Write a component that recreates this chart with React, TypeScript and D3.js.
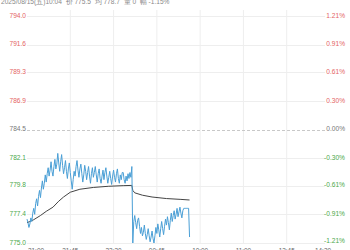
import React from "react";
import * as d3 from "d3";

const headerText = "2025/08/15(五)10:04  价 775.5  均 778.7  量 0  幅 -1.15%";

const priceTicks = [794.0, 791.6, 789.3, 786.9, 784.5, 782.1, 779.8, 777.4, 775.0];
const pctTicks = ["1.21%", "0.91%", "0.61%", "0.30%", "0.00%", "-0.30%", "-0.61%", "-0.91%", "-1.21%"];
const prevClose = 784.5;

const timeLabels = ["21:00", "21:45", "22:30", "00:45", "10:00", "11:00", "13:45", "14:30"];
const tickMinutes = [0, 45, 90, 135, 180, 225, 270, 315];

// one value per minute slot
const nightPrices = [
  777.0, 776.7, 776.3, 776.6, 777.1, 776.8, 777.5, 777.9, 777.4, 778.3, 778.7, 778.1, 778.9,
  779.4, 778.8, 779.6, 780.2, 779.5, 780.0, 780.7, 780.1, 780.8, 781.3, 780.6, 781.1,
  781.8, 781.0, 780.6, 781.4, 782.0, 781.2, 781.6, 782.5, 781.7, 781.0, 781.8, 782.4, 781.5, 780.8, 781.3,
  781.9, 781.0, 780.4, 781.2, 781.7, 780.9, 780.2, 779.5, 780.3, 781.0, 780.6, 781.4, 781.9, 781.1, 780.5,
  781.2, 781.6, 780.8, 780.1, 780.7, 781.5, 781.0, 780.3, 780.9, 781.4, 780.6, 780.0, 780.8, 781.3, 780.5,
  780.9, 781.4, 780.7, 780.1, 780.8, 781.2, 780.4, 780.0, 780.6, 781.1, 780.3, 780.9, 781.3, 780.6, 780.0,
  780.5, 781.0, 780.4, 779.9, 780.6, 781.1, 780.5, 780.1, 780.8, 781.2, 780.4, 780.0, 780.7, 780.3, 780.9,
  780.9, 780.3, 780.0, 780.6, 780.2, 780.8, 780.4, 780.9, 780.5, 781.4,
];
const dayPrices = [
  775.0, 776.8, 777.3, 776.7, 776.2, 776.9, 777.1, 776.4, 775.8, 776.3, 775.6, 775.9, 776.5, 775.8, 775.3,
  775.7, 776.2, 775.6, 775.1, 775.5, 776.0, 775.4, 775.0, 775.6, 776.3, 775.8, 776.6, 776.1, 775.5, 776.2,
  776.8, 776.2, 775.7, 776.4, 777.0, 776.5, 777.2, 776.7, 776.1, 776.9, 777.5, 776.8, 777.3, 777.7, 777.0,
  777.4, 777.9, 777.2, 777.6, 778.0, 777.5, 777.1, 777.7, 777.9, 777.9, 777.9, 777.9, 777.9, 777.9, 775.5,
];

const avgMinutes = [0, 3, 7, 14, 20, 27, 33, 38, 45, 55, 69, 85, 100, 109, 110, 112, 120, 130, 145, 160, 169];
const avgValues = [776.7, 776.8, 776.95, 777.3, 777.65, 778.0, 778.5, 778.85, 779.25, 779.5, 779.65, 779.75, 779.8, 779.82, 779.4, 779.2, 779.0, 778.85, 778.72, 778.65, 778.6];

const W = 350;
const H = 250;
const left = 27;
const right = 330;
const top = 16;
const bottom = 243;
const FONT = "'Liberation Sans', Arial, Helvetica, sans-serif";

export default function App() {
  const x = d3.scaleLinear().domain([0, 315]).range([left, right]);
  const y = d3.scaleLinear().domain([775, 794]).range([bottom, top]);

  const prices = [...nightPrices, ...dayPrices].map((v, i) => ({ m: i, v }));
  const avg = avgMinutes.map((m, i) => ({ m, v: avgValues[i] }));

  const line = d3
    .line<{ m: number; v: number }>()
    .x((d) => x(d.m))
    .y((d) => y(d.v));

  const colorFor = (v: number) =>
    Math.abs(v - prevClose) < 0.01 ? "#777" : v > prevClose ? "#e46464" : "#4aa84a";

  return (
    <svg
      width={W}
      height={H}
      style={{ position: "fixed", left: 0, top: 0, background: "#fff" }}
      fontFamily={FONT}
    >
      <rect x={0} y={0} width={W} height={H} fill="#fff" />
      {/* vertical grid */}
      {tickMinutes.slice(1, -1).map((m) => (
        <line key={"v" + m} x1={x(m)} x2={x(m)} y1={10} y2={bottom} stroke="#eeeeee" strokeWidth={1} />
      ))}
      {/* horizontal grid */}
      {priceTicks.map((p, i) =>
        p === prevClose ? (
          <line
            key={"h" + i}
            x1={left}
            x2={327}
            y1={Math.round(y(p)) + 0.5}
            y2={Math.round(y(p)) + 0.5}
            stroke="#c8c8c8"
            strokeDasharray="3,2"
          />
        ) : (
          <line
            key={"h" + i}
            x1={left}
            x2={325}
            y1={Math.round(y(p)) + 0.5}
            y2={Math.round(y(p)) + 0.5}
            stroke="#eeeeee"
          />
        )
      )}
      {/* average line */}
      <path d={line(avg) || ""} fill="none" stroke="#444" strokeWidth={1} />
      {/* price line */}
      <path d={line(prices) || ""} fill="none" stroke="#4a9fd6" strokeWidth={1} />
      {/* left labels */}
      {priceTicks.map((p, i) => (
        <text
          key={"l" + i}
          x={26}
          y={y(p)}
          fontSize={6.6}
          textAnchor="end"
          dominantBaseline="middle"
          fill={colorFor(p)}
        >
          {p.toFixed(1)}
        </text>
      ))}
      {/* right labels */}
      {pctTicks.map((t, i) => (
        <text
          key={"r" + i}
          x={345}
          y={y(priceTicks[i]) - (i === pctTicks.length - 1 ? 1.5 : 0)}
          fontSize={6.6}
          textAnchor="end"
          dominantBaseline="middle"
          fill={colorFor(priceTicks[i])}
        >
          {t}
        </text>
      ))}
      {/* x labels */}
      {timeLabels.map((t, i) => (
        <text
          key={"x" + i}
          x={i === 0 ? 28 : i === timeLabels.length - 1 ? 331 : x(tickMinutes[i])}
          y={252.5}
          fontSize={6.4}
          textAnchor={i === 0 ? "start" : i === timeLabels.length - 1 ? "end" : "middle"}
          fill="#666"
        >
          {t}
        </text>
      ))}
      {/* header */}
      <text x={1} y={3.5} fontSize={6.6} fill="#888" style={{ whiteSpace: "pre" }}>
        {headerText}
      </text>
    </svg>
  );
}
